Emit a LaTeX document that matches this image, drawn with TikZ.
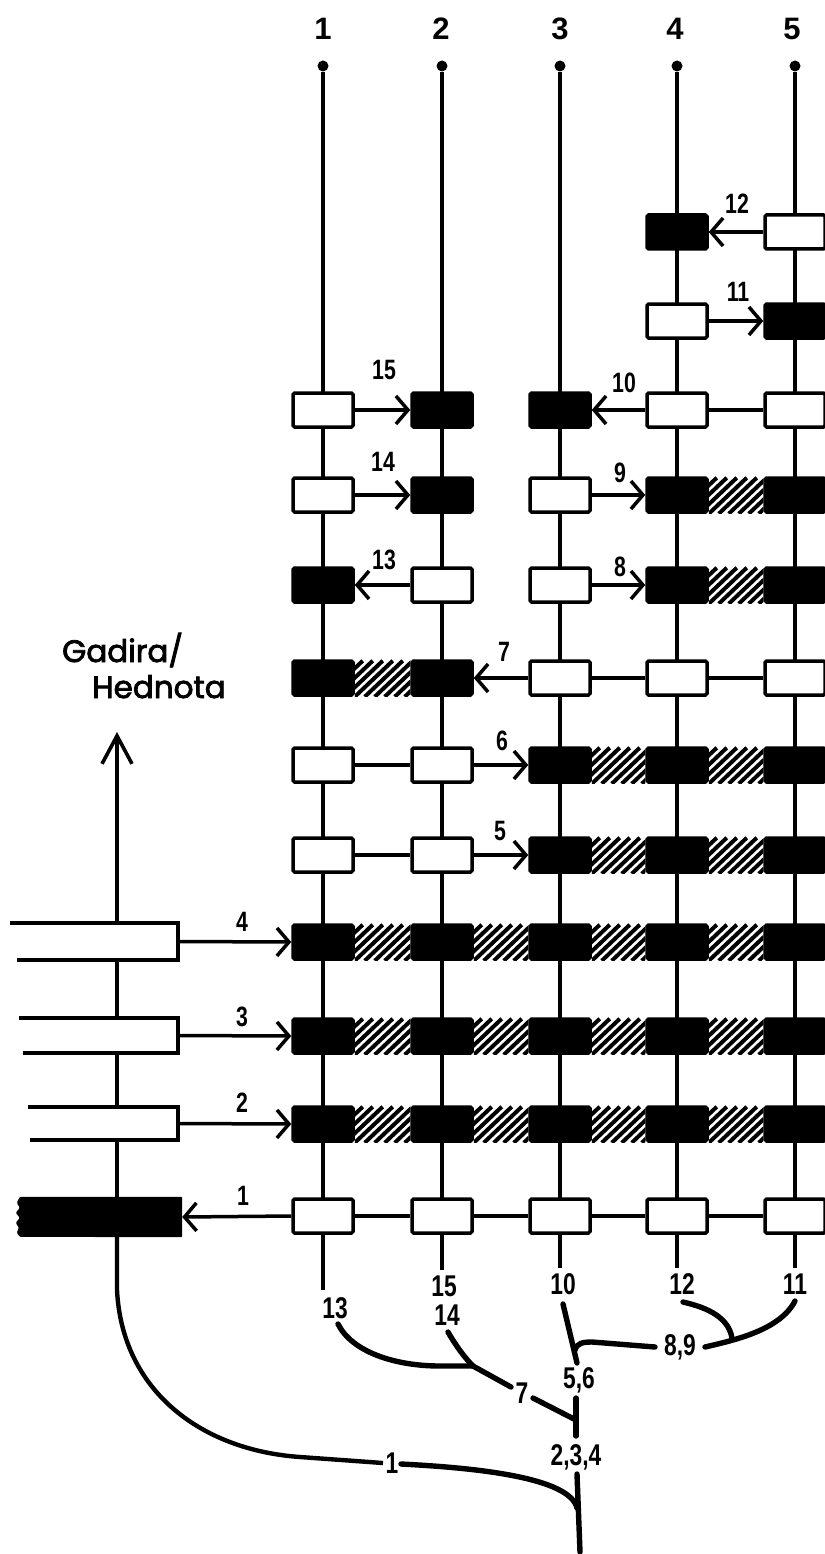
\documentclass[tikz,border=0pt]{standalone}
\usepackage{fontspec}
\setmainfont{Liberation Sans}
\newfontfamily\numf[FakeStretch=0.76]{Liberation Sans}
\newfontfamily\gadf[FakeBold=2.5]{Poppins}
\usetikzlibrary{arrows.meta,backgrounds}
\newcommand{\hatchzone}[2]{%
  \begin{scope}
    \clip (#1.north east) rectangle (#2.south west);
    \path (#1.south east) coordinate (hz);
    \foreach \s in {-50,-40,...,64} \draw[hatchline] ([xshift=\s pt]hz) -- ++(38,-36);
  \end{scope}}
\begin{document}
\begin{tikzpicture}[x=1pt,y=-1pt,
  gl/.style={line width=3.5pt},
  wbox/.style={draw,line width=3.5pt,fill=white,minimum width=60pt,minimum height=34pt,inner sep=0pt,rounded corners=1.5pt},
  bbox/.style={wbox,fill=black},
  arr/.style={gl,-{Straight Barb[length=12pt,width=28pt]}},
  bigarr/.style={line width=3.6pt,-{Straight Barb[length=28pt,width=30pt]}},
  hatchline/.style={line width=4pt},
  tree/.style={line width=5.4pt,line cap=round},
  glab/.style={font=\numf\bfseries\fontsize{28}{28}\selectfont,inner sep=0pt},
  tlab/.style={font=\numf\bfseries\fontsize{30}{30}\selectfont,inner sep=0pt},
  toplab/.style={font=\bfseries\fontsize{31}{31}\selectfont,inner sep=0pt},
  dotn/.style={circle,fill=black,minimum size=11pt,inner sep=0pt}
]
\useasboundingbox (0,0) rectangle (824,1554);
% top labels and dots
\foreach \c/\x/\lx in {1/323/323,2/442/441,3/560/560,4/677/675,5/795/792}{
  \node[toplab] (T\c) at (\lx,29) {\c};
  \node[dotn] (d\c) at (\x,66) {};
}
\coordinate (e1) at (323,1290);
\coordinate (e2) at (442,1270);
\coordinate (e3) at (560,1268);
\coordinate (e4) at (677,1268);
\coordinate (e5) at (795,1268);
% boxes
\node[bbox] (n12-4) at (677,232) {};
\node[wbox] (n12-5) at (795,232) {};
\node[wbox] (n11-4) at (677,321) {};
\node[bbox] (n11-5) at (795,321) {};
\node[wbox] (n10-1) at (323,410) {};
\node[bbox] (n10-2) at (442,410) {};
\node[bbox] (n10-3) at (560,410) {};
\node[wbox] (n10-4) at (677,410) {};
\node[wbox] (n10-5) at (795,410) {};
\node[wbox] (n9-1) at (323,495) {};
\node[bbox] (n9-2) at (442,495) {};
\node[wbox] (n9-3) at (560,495) {};
\node[bbox] (n9-4) at (677,495) {};
\node[bbox] (n9-5) at (795,495) {};
\node[bbox] (n8-1) at (323,585) {};
\node[wbox] (n8-2) at (442,585) {};
\node[wbox] (n8-3) at (560,585) {};
\node[bbox] (n8-4) at (677,585) {};
\node[bbox] (n8-5) at (795,585) {};
\node[bbox] (n7-1) at (323,678) {};
\node[bbox] (n7-2) at (442,678) {};
\node[wbox] (n7-3) at (560,678) {};
\node[wbox] (n7-4) at (677,678) {};
\node[wbox] (n7-5) at (795,678) {};
\foreach \r/\y in {6/765,5/855}{
  \node[wbox] (n\r-1) at (323,\y) {};
  \node[wbox] (n\r-2) at (442,\y) {};
  \node[bbox] (n\r-3) at (560,\y) {};
  \node[bbox] (n\r-4) at (677,\y) {};
  \node[bbox] (n\r-5) at (795,\y) {};
}
\foreach \r/\y in {4/942,3/1036,2/1124}{
  \foreach \c/\x in {1/323,2/442,3/560,4/677,5/795}
    \node[bbox] (n\r-\c) at (\x,\y) {};
}
\foreach \c/\x in {1/323,2/442,3/560,4/677,5/795}
  \node[wbox] (n1-\c) at (\x,1216) {};
% column lines
\begin{scope}[on background layer]
  \fill[white] (0,0) rectangle (824,1554);
  \foreach \c in {1,...,5} \draw[gl] (d\c) -- (e\c);
\end{scope}
% hatching
\hatchzone{n9-4}{n9-5}
\hatchzone{n8-4}{n8-5}
\hatchzone{n7-1}{n7-2}
\foreach \r in {6,5}{\hatchzone{n\r-3}{n\r-4}\hatchzone{n\r-4}{n\r-5}}
\foreach \r in {4,3,2}{\foreach \a/\b in {1/2,2/3,3/4,4/5}{\hatchzone{n\r-\a}{n\r-\b}}}
% horizontal connectors
\draw[arr] (n12-5.west) -- (n12-4.east);
\draw[arr] (n11-4.east) -- (n11-5.west);
\draw[arr] (n10-1.east) -- (n10-2.west);
\draw[arr] (n10-4.west) -- (n10-3.east);
\draw[gl] (n10-4.east) -- (n10-5.west);
\draw[arr] (n9-1.east) -- (n9-2.west);
\draw[arr] (n9-3.east) -- (n9-4.west);
\draw[arr] (n8-2.west) -- (n8-1.east);
\draw[arr] (n8-3.east) -- (n8-4.west);
\draw[arr] (n7-3.west) -- (n7-2.east);
\draw[gl] (n7-3.east) -- (n7-4.west) (n7-4.east) -- (n7-5.west);
\foreach \r in {6,5}{
  \draw[gl] (n\r-1.east) -- (n\r-2.west);
  \draw[arr] (n\r-2.east) -- (n\r-3.west);
}
\draw[gl] (n1-1.east) -- (n1-2.west) (n1-2.east) -- (n1-3.west) (n1-3.east) -- (n1-4.west) (n1-4.east) -- (n1-5.west);
% grid labels
\node[glab] (L12) at (737,204) {12};
\node[glab] (L11) at (738,292) {11};
\node[glab] (L15) at (384,370) {15};
\node[glab] (L10) at (624,383) {10};
\node[glab] (L14) at (383,462) {14};
\node[glab] (L9) at (620,473) {9};
\node[glab] (L13) at (384,560) {13};
\node[glab] (L8) at (620,567) {8};
\node[glab] (L7) at (504,652) {7};
\node[glab] (L6) at (502,741) {6};
\node[glab] (L5) at (500,831) {5};
\node[glab] (L4) at (242,922) {4};
\node[glab] (L3) at (242,1017) {3};
\node[glab] (L2) at (242,1103) {2};
\node[glab] (L1) at (243,1196) {1};
% left boxes
\node[inner sep=0pt,minimum width=168pt,minimum height=37pt] (lb4) at (94,941.5) {};
\node[inner sep=0pt,minimum width=159pt,minimum height=35pt] (lb3) at (98.5,1035.5) {};
\node[inner sep=0pt,minimum width=150pt,minimum height=33pt] (lb2) at (103,1123.5) {};
\node[inner sep=0pt,minimum width=166pt,minimum height=40pt] (lb1) at (99,1217) {};
\draw[gl] (lb4.north west) -- (lb4.north east) -- (lb4.south east) -- ([xshift=7pt]lb4.south west);
\draw[gl] (lb3.north west) -- (lb3.north east) -- (lb3.south east) -- ([xshift=4pt]lb3.south west);
\draw[gl] (lb2.north west) -- (lb2.north east) -- (lb2.south east) -- ([xshift=2pt]lb2.south west);
\fill[rounded corners=1pt] (lb1.north east) -- ([xshift=4pt]lb1.north west) -- ++(-3,6) -- ++(3,5) -- ++(-4,5) -- ++(4,5) -- ++(-4,5) -- ++(3,5) -- ++(-2,5) -- ++(3,4) -- (lb1.south east) -- cycle;
\draw[arr] (lb4.east) -- (n4-1.west);
\draw[arr] (lb3.east) -- (n3-1.west);
\draw[arr] (lb2.east) -- (n2-1.west);
\draw[arr] (n1-1.west) -- (lb1.east);
% trunk
\coordinate (tx) at (117,0);
\coordinate (gtip) at (117,732);
\draw[bigarr] (tx |- lb4.north) -- (gtip);
\draw[gl] (tx |- lb4.south) -- (tx |- lb3.north);
\draw[gl] (tx |- lb3.south) -- (tx |- lb2.north);
\draw[gl] (tx |- lb2.south) -- (tx |- lb1.north);
\node[font=\gadf\fontsize{31}{31}\selectfont,anchor=base west,inner sep=0pt] (g1) at (62,662) {Gadira/};
\node[font=\gadf\fontsize{31}{31}\selectfont,anchor=base west,inner sep=0pt] (g2) at (92,698) {Hednota};
% tree labels
\node[tlab] (t13) at (335,1308) {13};
\node[tlab] (t15) at (444,1286) {15};
\node[tlab] (t14) at (447,1315) {14};
\node[tlab] (t10) at (563,1284) {10};
\node[tlab] (t12) at (682,1284) {12};
\node[tlab] (t11) at (795,1284) {11};
\node[tlab] (t89) at (680,1347) {8,9};
\node[tlab] (t7) at (522,1393) {7};
\node[tlab] (t56) at (579,1380) {5,6};
\node[tlab] (t234) at (576,1457) {2,3,4};
\node[tlab] (t1) at (392,1463) {1};
% tree
\coordinate (a13) at (338,1324);
\coordinate (a14) at (448,1332);
\coordinate (j7) at (473,1366);
\coordinate (a7in) at (511,1387);
\coordinate (a7out) at (533,1398);
\coordinate (j56) at (574,1419);
\coordinate (a56b) at (576,1398);
\coordinate (a234t) at (576,1436);
\coordinate (a10) at (563,1304);
\coordinate (a10b) at (577,1363);
\coordinate (j10) at (575,1350);
\coordinate (a89l) at (655,1347);
\coordinate (a89r) at (705,1347);
\coordinate (j1211) at (732,1338);
\coordinate (a11) at (795,1301);
\coordinate (a12) at (683,1302);
\coordinate (a234b) at (577,1474);
\coordinate (root) at (580,1552);
\coordinate (a1l) at (383,1463);
\coordinate (a1r) at (401,1464);
\coordinate (j1) at (577,1508);
\draw[tree] (a13) .. controls (352,1352) and (395,1366) .. (440,1366) -- (j7);
\draw[tree] (a14) .. controls (456,1346) and (465,1358) .. (j7) -- (a7in);
\draw[tree] (a7out) -- (j56);
\draw[tree] (a56b) -- (a234t);
\draw[tree] (a10) -- (a10b);
\draw[tree] (j10) .. controls (577,1343) and (583,1342) .. (592,1342) -- (a89l);
\draw[tree] (a89r) .. controls (735,1340) and (780,1330) .. (a11);
\draw[tree] (a12) .. controls (700,1306) and (728,1314) .. (j1211);
\draw[tree] (a234b) -- (root);
\draw[line width=4.4pt] (tx |- lb1.south) -- (117,1290) .. controls (122,1390) and (200,1450) .. (300,1457) -- (a1l);
\draw[tree] (a1r) .. controls (480,1468) and (570,1478) .. (j1);
\end{tikzpicture}
\end{document}
